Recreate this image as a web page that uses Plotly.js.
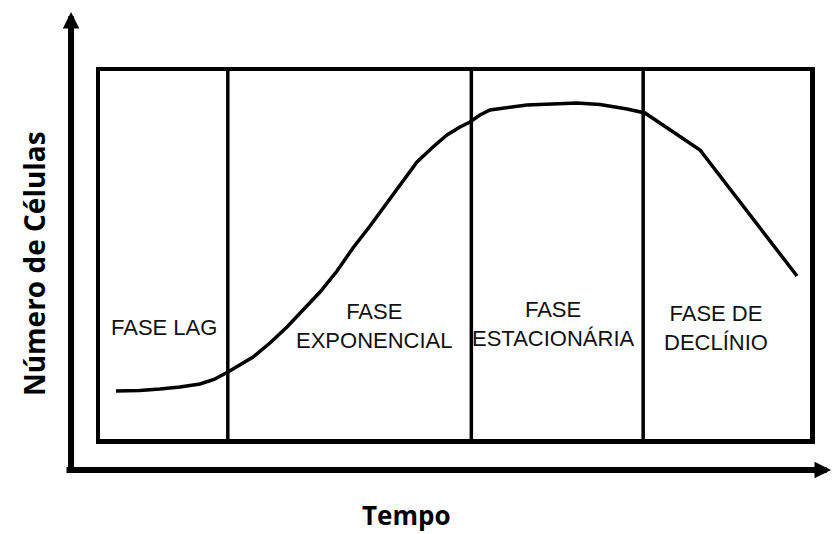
<!DOCTYPE html>
<html>
<head>
<meta charset="utf-8">
<script src="https://cdn.plot.ly/plotly-3.0.1.min.js"></script>
<style>html,body{margin:0;padding:0;background:#fff}#chart{width:832px;height:534px}</style>
</head>
<body>
<div id="chart"></div>
<script>
// Growth curve (arbitrary units: time 0-100, cell count 0-100)
const timeVals   = [2.25, 5.63, 8.45, 11.27, 14.08, 16.06, 18.03, 19.72, 21.55, 23.94, 26.34, 28.59, 30.99, 33.38, 35.63, 38.03, 40.42, 42.25, 44.65, 46.90, 48.87, 50.70, 52.11, 53.52, 54.93, 60.14, 67.18, 70.42, 74.23, 76.76, 84.51, 98.17];
const cellCounts = [13.04, 13.18, 13.59, 14.13, 14.95, 16.17, 18.21, 20.11, 22.28, 26.09, 30.43, 35.05, 39.95, 45.65, 51.90, 57.88, 64.13, 69.02, 75.27, 79.35, 82.61, 84.78, 86.14, 88.04, 89.40, 90.76, 91.30, 90.90, 89.67, 88.59, 78.53, 44.29];
const phaseBounds = [18.0, 52.3, 76.5];
const phaseLabels = ["FASE LAG", "FASE<br>EXPONENCIAL", "FASE<br>ESTACIONÁRIA", "FASE DE<br>DECLÍNIO"];
const xTitle = "Tempo";
const yTitle = "Número de Células";

const labelPos = [[9.0, 30.2], [38.7, 30.8], [63.9, 31.2], [86.8, 30.3]];

const trace = {
  x: timeVals, y: cellCounts, type: 'scatter', mode: 'lines',
  line: {color: '#000', width: 3.5}, hoverinfo: 'skip', showlegend: false
};

const shapes = phaseBounds.map(b => ({
  type: 'line', xref: 'x', yref: 'paper', x0: b, x1: b, y0: 0, y1: 1,
  line: {color: '#000', width: 3.5}
}));

const annotations = phaseLabels.map((t, i) => ({
  text: t, x: labelPos[i][0], y: labelPos[i][1], xref: 'x', yref: 'y',
  showarrow: false, align: 'center', xanchor: 'center', yanchor: 'middle',
  font: {family: 'Liberation Sans, Arial, sans-serif', size: 22, color: '#111'}
}));

// axis titles
annotations.push({
  text: xTitle, xref: 'paper', yref: 'paper', x: 0.432, y: -0.2065,
  xanchor: 'center', yanchor: 'middle', showarrow: false, borderpad: 0,
  font: {family: 'Open Sans, sans-serif', size: 26, color: '#000', weight: 'bold'}
});
annotations.push({
  text: yTitle, xref: 'paper', yref: 'paper', x: -0.093, y: 0.478, textangle: -90,
  xanchor: 'center', yanchor: 'middle', showarrow: false,
  font: {family: 'Open Sans, sans-serif', size: 28, color: '#000', weight: 'bold'}
});

// axis arrows
annotations.push({
  xref: 'paper', yref: 'paper', x: -0.0408, y: 1.1603, ax: 0, ay: 458,
  axref: 'pixel', ayref: 'pixel', text: '', showarrow: true,
  arrowhead: 2, arrowsize: 0.55, arrowwidth: 6, arrowcolor: '#000', standoff: 0
});
annotations.push({
  xref: 'paper', yref: 'paper', x: 1.031, y: -0.0842, ax: -767, ay: 0,
  axref: 'pixel', ayref: 'pixel', text: '', showarrow: true,
  arrowhead: 2, arrowsize: 0.55, arrowwidth: 6, arrowcolor: '#000', standoff: 0
});

const layout = {
  width: 832, height: 534,
  margin: {l: 100, r: 22, t: 71, b: 95},
  paper_bgcolor: '#fff', plot_bgcolor: '#fff',
  showlegend: false,
  xaxis: {
    range: [0, 100], showgrid: false, zeroline: false, showticklabels: false, ticks: '',
    showline: true, mirror: true, linecolor: '#000', linewidth: 4.5, fixedrange: true
  },
  yaxis: {
    range: [0, 100], showgrid: false, zeroline: false, showticklabels: false, ticks: '',
    showline: true, mirror: true, linecolor: '#000', linewidth: 4.5, fixedrange: true
  },
  shapes: shapes,
  annotations: annotations
};

Plotly.newPlot('chart', [trace], layout, {staticPlot: true, displayModeBar: false});
</script>
</body>
</html>
